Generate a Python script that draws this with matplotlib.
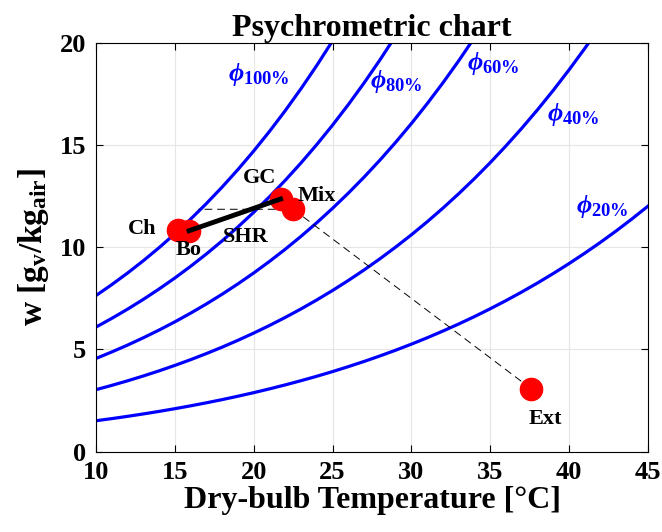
import matplotlib
matplotlib.use('Agg')
import matplotlib.pyplot as plt

plt.rcParams['font.family'] = 'Liberation Serif'
plt.rcParams['font.weight'] = 'bold'
plt.rcParams['mathtext.fontset'] = 'custom'
plt.rcParams['mathtext.rm'] = 'Liberation Serif:bold'
plt.rcParams['mathtext.bf'] = 'Liberation Serif:bold'
plt.rcParams['mathtext.it'] = 'Liberation Serif:italic:bold'

# dry-bulb temperature grid [C], 1 degree steps from 10 to 45
temp = list(range(10, 46))

# humidity ratio [g/kg] along each relative humidity line
w_100 = [7.632, 8.166, 8.732, 9.334, 9.973, 10.651, 11.369, 12.131, 12.938,
         13.794, 14.700, 15.659, 16.674, 17.749, 18.885, 20.087, 21.359]
w_80 = [6.091, 6.516, 6.966, 7.445, 7.953, 8.491, 9.062, 9.667, 10.307,
        10.987, 11.704, 12.464, 13.268, 14.118, 15.017, 15.967, 16.971,
        18.031, 19.151, 20.333, 21.580]
w_60 = [4.557, 4.874, 5.210, 5.567, 5.946, 6.347, 6.772, 7.222, 7.699,
        8.204, 8.737, 9.302, 9.898, 10.529, 11.195, 11.899, 12.642, 13.426,
        14.253, 15.126, 16.046, 17.016, 18.039, 19.116, 20.252, 21.448]
w_40 = [3.031, 3.241, 3.464, 3.700, 3.951, 4.217, 4.498, 4.796, 5.111,
        5.445, 5.798, 6.170, 6.564, 6.980, 7.419, 7.882, 8.371, 8.886,
        9.430, 10.003, 10.606, 11.242, 11.911, 12.615, 13.356, 14.136,
        14.956, 15.818, 16.724, 17.677, 18.678, 19.729, 20.834]
w_20 = [1.512, 1.616, 1.727, 1.845, 1.969, 2.101, 2.241, 2.389, 2.545,
        2.711, 2.885, 3.070, 3.265, 3.471, 3.687, 3.916, 4.158, 4.412,
        4.680, 4.961, 5.258, 5.570, 5.899, 6.244, 6.607, 6.989, 7.389,
        7.810, 8.251, 8.715, 9.201, 9.711, 10.245, 10.805, 11.393, 12.008]
rh_curves = [w_100, w_80, w_60, w_40, w_20]
rh_labels = ['100%', '80%', '60%', '40%', '20%']
rh_label_pos = [(18.4, 18.45), (27.4, 18.1), (33.5, 19.0), (38.6, 16.5), (40.4, 12.0)]

# state points: name, T [C], w [g/kg]
pt_names = ['Ch', 'Bo', 'GC', 'Mix', 'Ext']
pt_temp = [15.2, 15.9, 21.7, 22.5, 37.6]
pt_w = [10.85, 10.8, 12.35, 11.85, 3.07]
pt_label_pos = [(12.9, 10.9), (15.9, 9.85), (20.4, 13.4), (24.0, 12.5), (38.5, 1.6)]

t_dew = 16.5  # saturation point at the mixing humidity ratio

fig = plt.figure(figsize=(6.62, 5.32), dpi=100)
ax = fig.add_axes([0.145, 0.151, 0.834, 0.769])

for w, lab, (lx, ly) in zip(rh_curves, rh_labels, rh_label_pos):
    ax.plot(temp[:len(w)], w, color='blue', lw=2.3, zorder=2)
    ax.text(lx, ly, r'$\phi_{\mathrm{' + lab.replace('%', r'\%') + '}}$',
            color='blue', fontsize=19, ha='left', va='center')

# mixing line Ext -> Mix, then cooling to saturation
ax.plot([pt_temp[4], pt_temp[3], t_dew], [pt_w[4], pt_w[3], pt_w[3]],
        color='black', lw=0.7, ls=(0, (8, 5)), zorder=3)
ax.plot([pt_temp[0], pt_temp[1]], [pt_w[0], pt_w[1]], color='black', lw=0.7, zorder=3)

ax.plot(pt_temp, pt_w, 'o', ls='none', color='red', markersize=16, zorder=4)
ax.plot([pt_temp[1], pt_temp[2]], [pt_w[1], pt_w[2]], color='black', lw=3.5, zorder=5)

for name, (lx, ly) in zip(pt_names, pt_label_pos):
    ax.text(lx, ly, name, fontsize=16, ha='center', va='center', zorder=6)
ax.text(19.5, 10.5, 'SHR', fontsize=16, ha='center', va='center', zorder=6)

ax.set_xlim(10, 45)
ax.set_ylim(0, 20)
ax.set_xticks(range(10, 46, 5))
ax.set_yticks(range(0, 21, 5))
ax.grid(True, color='#e6e6e6', lw=0.8, zorder=0)
ax.set_axisbelow(True)
ax.tick_params(direction='in', top=True, right=True, labelsize=19, length=5, pad=7)
for s in ax.spines.values():
    s.set_linewidth(0.8)

ax.set_title('Psychrometric chart', fontsize=23, fontweight='bold', pad=5)
ax.set_xlabel('Dry-bulb Temperature [°C]', fontsize=23, fontweight='bold', labelpad=1)
ax.set_ylabel(r'w [g$_{\mathrm{v}}$/kg$_{\mathrm{air}}$]', fontsize=24,
              fontweight='bold', labelpad=6)

fig.savefig('out.png', dpi=100)
